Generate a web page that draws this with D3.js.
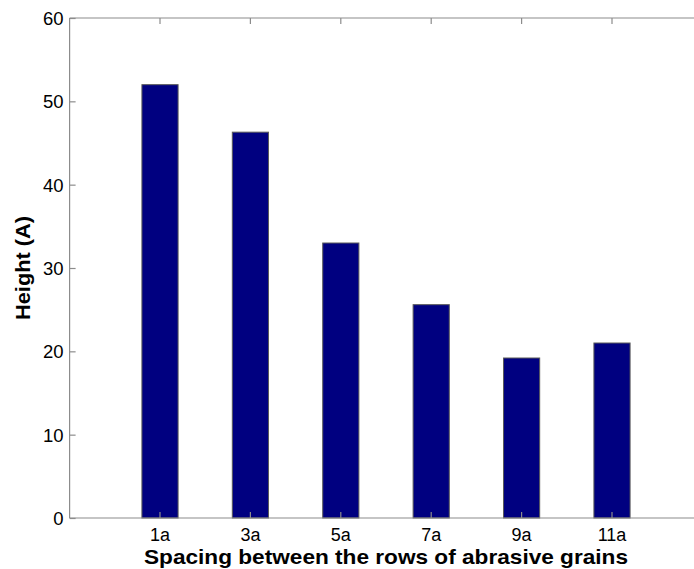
<!DOCTYPE html>
<html>
<head>
<meta charset="utf-8">
<script src="https://cdn.jsdelivr.net/npm/d3@7"></script>
<style>
  html, body { margin: 0; padding: 0; background: #fff; }
  svg { display: block; }
  text { font-family: "Liberation Sans", Arial, Helvetica, sans-serif; fill: #000; }
</style>
</head>
<body>
<svg id="chart" width="694" height="569"></svg>
<script>
// Bar heights for each row spacing
const categories = ["1a", "3a", "5a", "7a", "9a", "11a"];
const heights = [52, 46.3, 33, 25.6, 19.2, 21];
const yTicks = [0, 10, 20, 30, 40, 50, 60];
const xTitle = "Spacing between the rows of abrasive grains";
const yTitle = "Height (A)";

const plotLeft = 69.6, plotRight = 702.4, plotTop = 18, plotBottom = 518;
const axisColor = "#8c8c8c";

const svg = d3.select("#chart");

// Band scale: one slot per category, bars 0.4 of a slot wide
const x = d3.scaleBand()
  .domain(categories)
  .range([plotLeft, plotRight])
  .paddingInner(0.6)
  .paddingOuter(0.8);

const y = d3.scaleLinear().domain([0, 60]).range([plotBottom, plotTop]);

// Bars
svg.append("g").selectAll("rect")
  .data(categories.map((c, i) => ({ c, v: heights[i] })))
  .join("rect")
  .attr("x", d => x(d.c))
  .attr("y", d => y(d.v))
  .attr("width", x.bandwidth())
  .attr("height", d => y(0) - y(d.v))
  .attr("fill", "#000080")
  .attr("stroke", "#5a5a5a")
  .attr("stroke-width", 1);

// Box lines (the right side falls outside the canvas)
const box = svg.append("g").attr("stroke", axisColor).attr("stroke-width", 1.2).attr("fill", "none");
box.append("line").attr("x1", plotLeft).attr("x2", plotRight).attr("y1", plotBottom).attr("y2", plotBottom);
box.append("line").attr("x1", plotLeft).attr("x2", plotRight).attr("y1", plotTop).attr("y2", plotTop);
box.append("line").attr("x1", plotLeft).attr("x2", plotLeft).attr("y1", plotTop).attr("y2", plotBottom);

// Bottom axis: inward ticks, labels below
const xAxis = d3.axisBottom(x).tickSizeInner(-6).tickSizeOuter(0);
const gx = svg.append("g").attr("transform", `translate(0,${plotBottom})`).call(xAxis);
gx.select(".domain").remove();
gx.selectAll(".tick line").attr("stroke", axisColor).attr("stroke-width", 1.2);
gx.selectAll(".tick text")
  .attr("font-size", 18)
  .attr("font-family", "Liberation Sans, Arial, sans-serif")
  .attr("dy", null)
  .attr("y", 23);

// Top axis: mirrored ticks only
const gxTop = svg.append("g").attr("transform", `translate(0,${plotTop})`)
  .call(d3.axisTop(x).tickSizeInner(-6).tickSizeOuter(0).tickFormat(""));
gxTop.select(".domain").remove();
gxTop.selectAll(".tick line").attr("stroke", axisColor).attr("stroke-width", 1.2);

// Left axis: inward ticks, labels to the left
const yAxis = d3.axisLeft(y).tickValues(yTicks).tickSizeInner(-6).tickSizeOuter(0);
const gy = svg.append("g").attr("transform", `translate(${plotLeft},0)`).call(yAxis);
gy.select(".domain").remove();
gy.selectAll(".tick line").attr("stroke", axisColor).attr("stroke-width", 1.2);
gy.selectAll(".tick text")
  .attr("font-size", 18.5)
  .attr("font-family", "Liberation Sans, Arial, sans-serif")
  .attr("x", -6)
  .attr("dy", "0.35em");

// Axis titles
svg.append("text")
  .attr("x", (plotLeft + plotRight) / 2)
  .attr("y", 564)
  .attr("text-anchor", "middle")
  .attr("font-size", 21)
  .attr("font-weight", "bold")
  .attr("textLength", 484)
  .attr("lengthAdjust", "spacingAndGlyphs")
  .text(xTitle);

svg.append("text")
  .attr("transform", `translate(30,${(plotTop + plotBottom) / 2}) rotate(-90)`)
  .attr("text-anchor", "middle")
  .attr("font-size", 20)
  .attr("font-weight", "bold")
  .attr("textLength", 104)
  .attr("lengthAdjust", "spacingAndGlyphs")
  .text(yTitle);
</script>
</body>
</html>
